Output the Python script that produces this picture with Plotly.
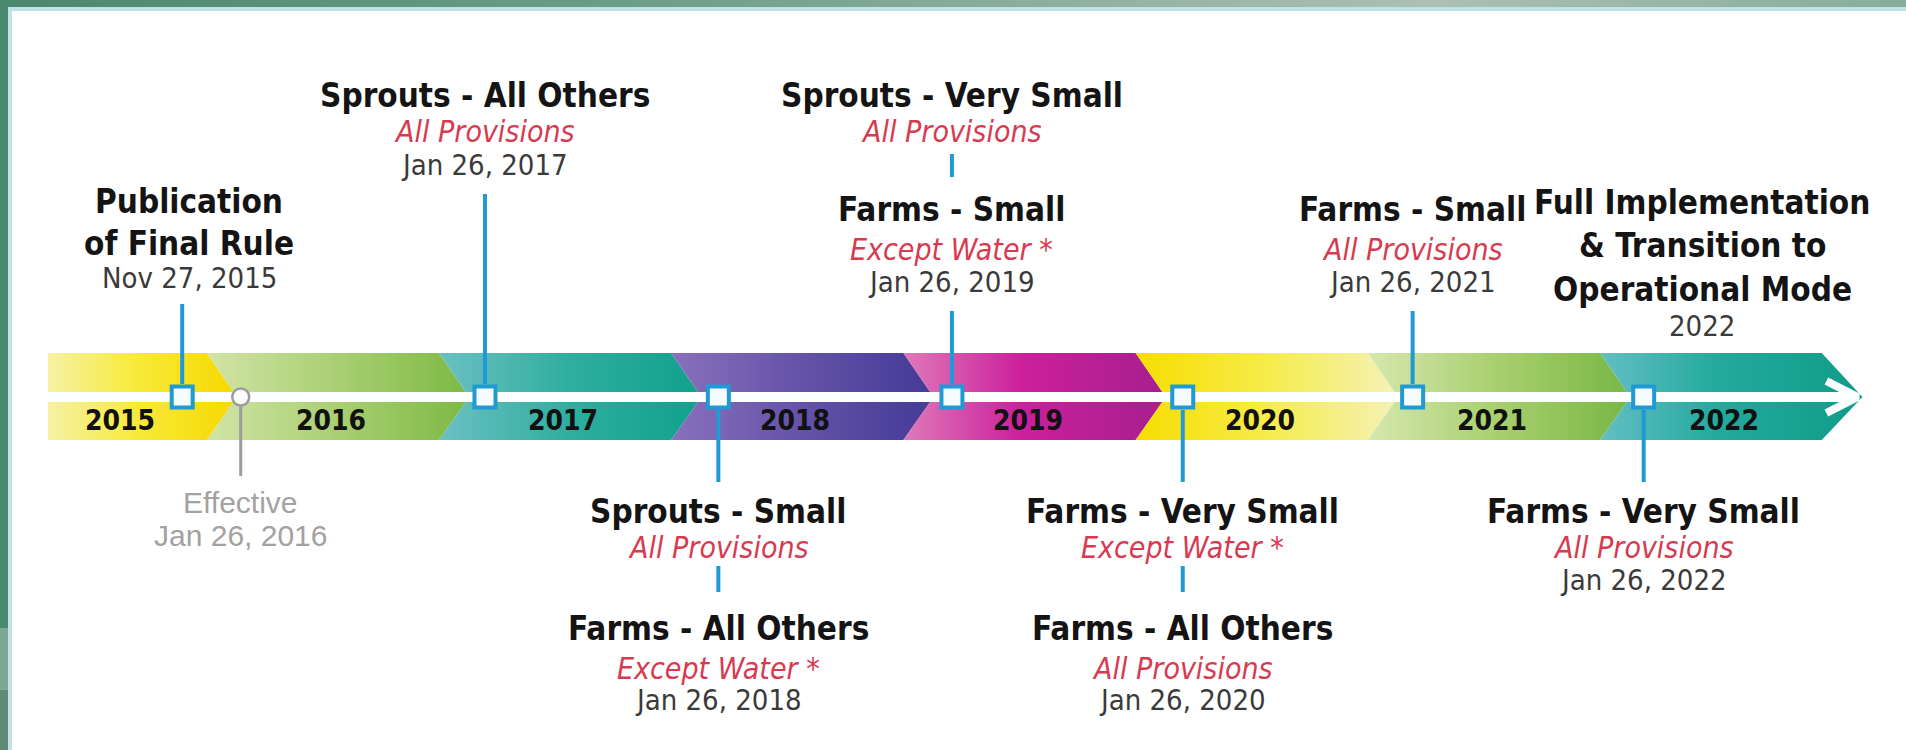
import plotly.graph_objects as go

# ---------------- data ----------------
years = [2015, 2016, 2017, 2018, 2019, 2020, 2021, 2022]
year_labels = ["2015", "2016", "2017", "2018", "2019", "2020", "2021", "2022"]
band_start = 2015.186          # timeline position where the band begins
band_end = 2023.0              # arrow tip

milestone_pos = [2015.764, 2016.016, 2017.068, 2018.073, 2019.079, 2020.073, 2021.063, 2022.058]
milestone_dates = ["Nov 27, 2015", "Jan 26, 2016", "Jan 26, 2017", "Jan 26, 2018",
                   "Jan 26, 2019", "Jan 26, 2020", "Jan 26, 2021", "Jan 26, 2022"]
milestone_side = ["above", "below", "above", "below", "above", "below", "above", "below"]
milestone_level = [2, 1, 1, 1, 1, 1, 2, 1]
milestone_titles = [
    ["Publication", "of Final Rule"],
    ["Effective"],
    ["Sprouts - All Others"],
    ["Sprouts - Small", "Farms - All Others"],
    ["Sprouts - Very Small", "Farms - Small"],
    ["Farms - Very Small", "Farms - All Others"],
    ["Farms - Small"],
    ["Farms - Very Small"],
]
milestone_scopes = [
    [],
    [],
    ["All Provisions"],
    ["All Provisions", "Except Water *"],
    ["All Provisions", "Except Water *"],
    ["Except Water *", "All Provisions"],
    ["All Provisions"],
    ["All Provisions"],
]
final_pos = 2022.31
final_lines = ["Full Implementation", "& Transition to", "Operational Mode"]
final_date = "2022"

# ---------------- styling ----------------
W, H = 1906, 750
PX_PER_YEAR = 232.2
X0 = 2017 - 469.2 / PX_PER_YEAR
X1 = X0 + W / PX_PER_YEAR

def px2t(px):
    return X0 + px / PX_PER_YEAR

BAND_TOP, BAND_MID, BAND_BOT = 353, 397, 440
D = 0.13
D_END = 0.175

seg_colors = [
    [[0, "#f6f2a6"], [0.45, "#f8ea3c"], [1, "#f7d800"]],
    [[0, "#d2e4a6"], [0.5, "#a9cf72"], [1, "#7cb943"]],
    [[0, "#6cc0c2"], [0.5, "#2eae9f"], [1, "#10a18c"]],
    [[0, "#8a70bc"], [0.5, "#6352a8"], [1, "#453a96"]],
    [[0, "#de7ab8"], [0.45, "#cc1f9c"], [1, "#a61f8e"]],
    [[0, "#f7dd00"], [0.5, "#f6ec4a"], [1, "#f4f2b8"]],
    [[0, "#d6e8ae"], [0.5, "#a8cf6e"], [1, "#78b744"]],
    [[0, "#64bec4"], [0.45, "#22aa9c"], [1, "#0f9c88"]],
]

TITLE_FONT = "Liberation Sans Narrow, Arial Narrow, DejaVu Sans Condensed, sans-serif"
BLUE = "#1f9ad5"
GREY = "#9c9c9c"
RED = "#d83a50"

fig = go.Figure()

# frame (slide background border)
fig.add_trace(go.Scatter(
    x=[px2t(0), px2t(W), px2t(W), px2t(0), px2t(0)], y=[0, 0, 7, 7, 0],
    fill="toself", mode="none", hoverinfo="skip", showlegend=False,
    fillgradient=dict(type="horizontal",
                      colorscale=[[0, "#4a886d"], [0.35, "#6f9f89"], [0.75, "#adbfb3"], [1, "#86ae98"]])))

# band segments
for i, y in enumerate(years):
    if i == 0:
        xs = [band_start, y + 1 - D, y + 1, y + 1 - D, band_start, band_start]
        ys = [BAND_TOP, BAND_TOP, BAND_MID, BAND_BOT, BAND_BOT, BAND_TOP]
    else:
        d_r = D_END if i == len(years) - 1 else D
        xs = [y - D, y + 1 - d_r, y + 1, y + 1 - d_r, y - D, y, y - D]
        ys = [BAND_TOP, BAND_TOP, BAND_MID, BAND_BOT, BAND_BOT, BAND_MID, BAND_TOP]
    fig.add_trace(go.Scatter(
        x=xs, y=ys, fill="toself", mode="none", hoverinfo="skip", showlegend=False,
        fillgradient=dict(type="horizontal", colorscale=seg_colors[i])))

# white timeline line + arrow head
fig.add_trace(go.Scatter(x=[band_start, band_end - 0.05], y=[BAND_MID, BAND_MID], mode="lines",
                         line=dict(color="#fdfefe", width=10), hoverinfo="skip", showlegend=False))
fig.add_trace(go.Scatter(x=[band_end - 0.155, band_end - 0.02, band_end - 0.155],
                         y=[BAND_MID - 16, BAND_MID, BAND_MID + 16], mode="lines",
                         line=dict(color="#fdfefe", width=8), hoverinfo="skip", showlegend=False))

# year labels
for i, y in enumerate(years):
    start = band_start if i == 0 else y
    xc = (start + y + 1 - D) / 2 - 0.03
    fig.add_annotation(x=xc, y=420, text=year_labels[i], showarrow=False,
                       font=dict(family=TITLE_FONT, size=28, color="#111111", weight="bold"))

ABOVE = {1: dict(title=95, scope=131, date=165), 2: dict(title=209, scope=249, date=282)}
BELOW = {1: dict(title=511, scope=547, date=580), 2: dict(title=628, scope=668, date=700)}

def conn(x, y0, y1, color=BLUE, width=4):
    fig.add_trace(go.Scatter(x=[x, x], y=[y0, y1], mode="lines", line=dict(color=color, width=width),
                             hoverinfo="skip", showlegend=False))

def txt(x, y, s, kind):
    if kind == "title":
        f = dict(family=TITLE_FONT, size=33, color="#141414", weight="bold")
    elif kind == "scope":
        f = dict(family=TITLE_FONT, size=30, color=RED, style="italic")
    elif kind == "date":
        f = dict(family=TITLE_FONT, size=29, color="#3a3a3a")
    else:
        f = dict(family="Liberation Sans, Arial, sans-serif", size=30, color="#a2a2a2")
    fig.add_annotation(x=x, y=y, text=s, showarrow=False, xanchor="center", yanchor="middle", font=f)

for k, x in enumerate(milestone_pos):
    titles = milestone_titles[k]
    scopes = milestone_scopes[k]
    date = milestone_dates[k]
    if k == 0:  # publication
        txt(x + 0.03, 201, titles[0], "title")
        txt(x + 0.03, 243, titles[1], "title")
        txt(x + 0.03, 278, date, "date")
        conn(x, 304, 384)
        continue
    if k == 1:  # effective
        txt(x, 502, titles[0], "grey")
        txt(x, 535, date, "grey")
        conn(x, 405, 476, color=GREY, width=3)
        continue
    lv = ABOVE if milestone_side[k] == "above" else BELOW
    start = milestone_level[k]
    for r, (t, s) in enumerate(zip(titles, scopes)):
        L = lv[start + r]
        txt(x, L["title"], t, "title")
        txt(x, L["scope"], s, "scope")
        if r < len(titles) - 1:
            if milestone_side[k] == "above":
                conn(x, 154, 177)
            else:
                conn(x, 566, 592)
    last = lv[start + len(titles) - 1]
    txt(x, last["date"], date, "date")
    if milestone_side[k] == "above":
        conn(x, last["date"] + 29, 384)
    else:
        conn(x, 410, 482)

# full implementation block
for j, line in enumerate(final_lines):
    txt(final_pos, [202, 245, 289][j], line, "title")
txt(final_pos, 326, final_date, "date")

# markers
sq_x = [p for k, p in enumerate(milestone_pos) if k != 1]
fig.add_trace(go.Scatter(x=sq_x, y=[BAND_MID] * len(sq_x), mode="markers", hoverinfo="skip", showlegend=False,
                         marker=dict(symbol="square", size=21, color="#f6fbfd", line=dict(color=BLUE, width=4))))
fig.add_trace(go.Scatter(x=[milestone_pos[1]], y=[BAND_MID], mode="markers", hoverinfo="skip", showlegend=False,
                         marker=dict(symbol="circle", size=17, color="#fbfbfb", line=dict(color=GREY, width=2.5))))

# left border pieces
fig.add_shape(type="rect", xref="paper", yref="paper", x0=0, x1=8 / W, y0=1 - 628 / H, y1=1,
              fillcolor="#4b896f", line_width=0, layer="above")
fig.add_shape(type="rect", xref="paper", yref="paper", x0=0, x1=8 / W, y0=1 - 690 / H, y1=1 - 628 / H,
              fillcolor="#7ba993", line_width=0, layer="above")
fig.add_shape(type="rect", xref="paper", yref="paper", x0=0, x1=8 / W, y0=0, y1=1 - 690 / H,
              fillcolor="#5f8a75", line_width=0, layer="above")
fig.add_shape(type="rect", xref="paper", yref="paper", x0=8 / W, x1=12 / W, y0=0, y1=1 - 7 / H,
              fillcolor="#c2e2e6", line_width=0, layer="above")
fig.add_shape(type="rect", xref="paper", yref="paper", x0=8 / W, x1=1, y0=1 - 11 / H, y1=1 - 7 / H,
              fillcolor="#bfe0e6", line_width=0, layer="above")

fig.update_layout(
    width=W, height=H, margin=dict(l=0, r=0, t=0, b=0),
    paper_bgcolor="white", plot_bgcolor="white",
    xaxis=dict(range=[X0, X1], visible=False, fixedrange=True),
    yaxis=dict(range=[H, 0], visible=False, fixedrange=True),
    showlegend=False,
)
fig.write_html("out.html", config={"displayModeBar": False},
               post_script="document.body.style.margin='0';document.body.style.overflow='hidden';")
